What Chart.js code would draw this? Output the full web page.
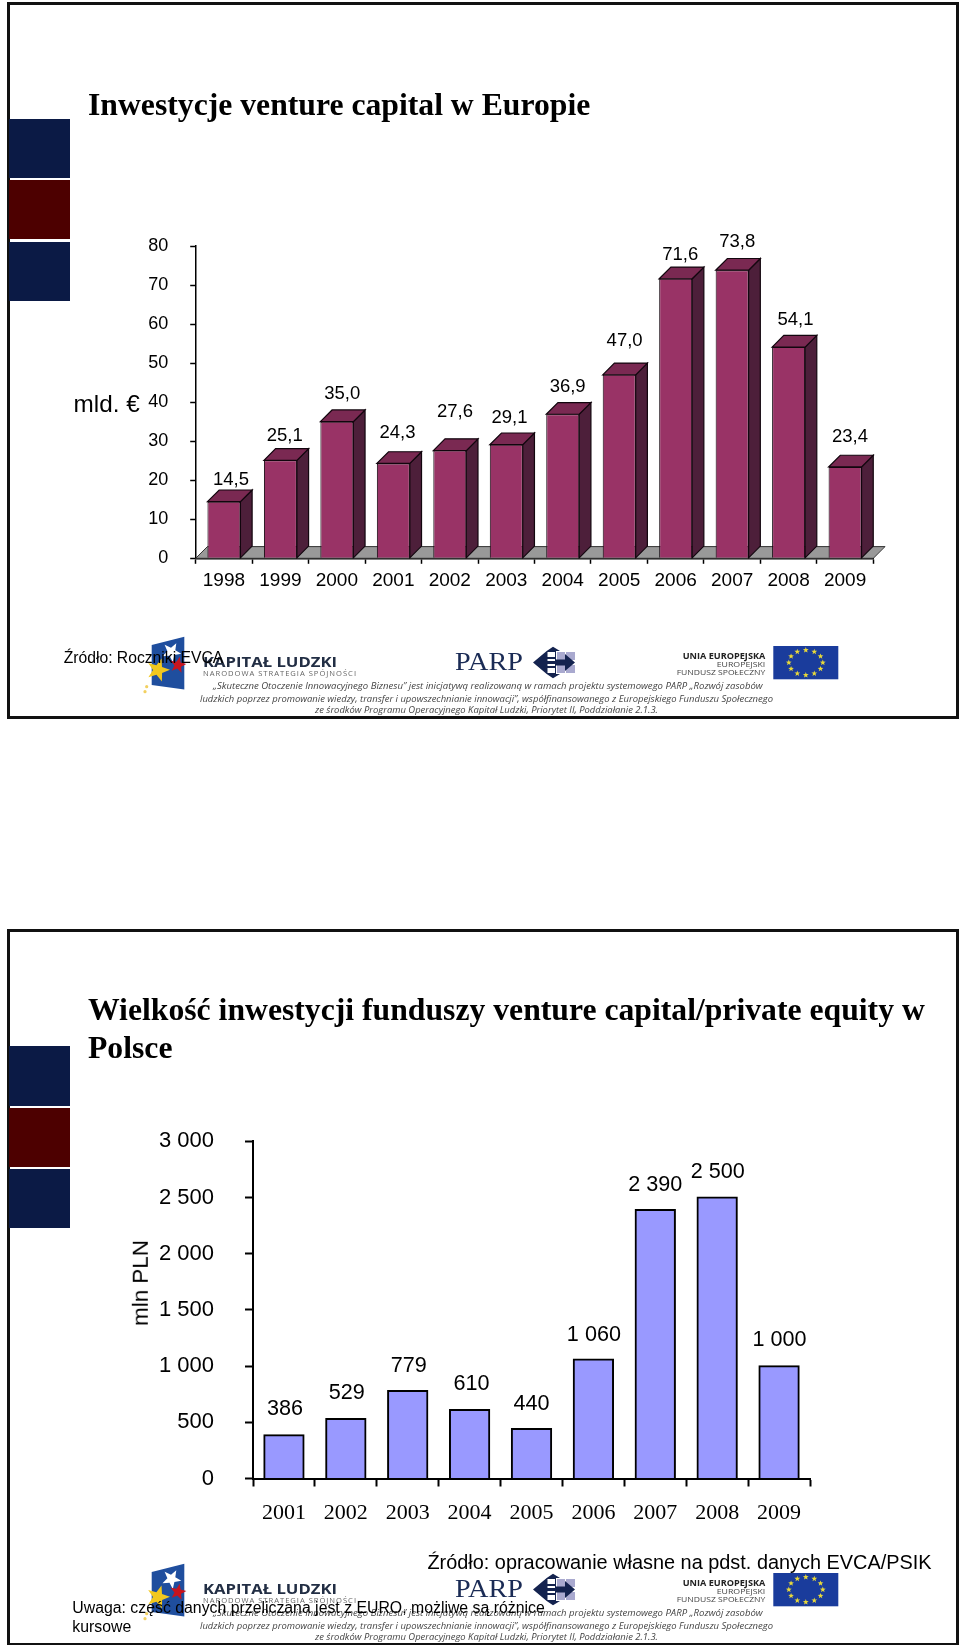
<!DOCTYPE html>
<html lang="pl">
<head>
<meta charset="utf-8">
<title>Inwestycje venture capital</title>
<script src="https://cdn.jsdelivr.net/npm/chart.js@4/dist/chart.umd.min.js"></script>
<style>
html,body{margin:0;padding:0;background:#fff;width:960px;height:1645px;overflow:hidden}
.abs{position:absolute;white-space:nowrap;line-height:1;color:#000}
canvas{position:absolute;left:0}
.frame{position:absolute;left:7px;width:946px;border:3px solid #111;box-sizing:content-box}
.block{position:absolute;left:9px;width:61px}
.serif{font-family:"Liberation Serif",serif;font-weight:bold}
.sans{font-family:"Liberation Sans",sans-serif}
svg.logo{position:absolute;left:0;width:960px;height:90px;overflow:visible}
</style>
</head>
<body>
<script>
// ---------- data ----------
const euroYears = ['1998','1999','2000','2001','2002','2003','2004','2005','2006','2007','2008','2009'];
const euroValues = [14.5,25.1,35.0,24.3,27.6,29.1,36.9,47.0,71.6,73.8,54.1,23.4];
const plnYears = ['2001','2002','2003','2004','2005','2006','2007','2008','2009'];
const plnValues = [386,529,779,610,440,1060,2390,2500,1000];
// hand placement of value labels, relative to each bar's centre / top
const euroLabelDx = [7,4.4,5.4,4.1,5.2,3.2,4.9,5.4,4.6,5.1,6.9,4.9];
const euroLabelDy = [-22,-24.2,-27.9,-30.5,-38.9,-26.5,-27.8,-33.9,-23.7,-28.5,-27.3,-30.4];
const plnLabelDx = [1,1,1,2,0,.5,0,.5,.5];
const plnLabelDy = [-26,-25.7,-25.3,-26.3,-25,-24.2,-25.2,-25.3,-26.4];

// ---------- page furniture ----------
function add(tag, cls, css, text){
  const e = document.createElement(tag);
  if(cls) e.className = cls;
  e.style.cssText = css;
  if(text) e.textContent = text;
  document.body.appendChild(e);
  return e;
}
add('div','frame','top:2px;height:711px');
add('div','frame','top:929px;height:711px');
[[118.5,59.5,'#0b1a45'],[180,59,'#4d0000'],[241.5,59,'#0b1a45'],
 [1046,60,'#0b1a45'],[1107.7,59,'#4d0000'],[1168.7,59,'#0b1a45']].forEach(([t,h,c])=>{
  add('div','block',`top:${t}px;height:${h}px;background:${c}`);
});

function fmtPl(v){ return String(v).replace(/\B(?=(\d{3})+$)/g,' '); }

const depth = 11.7;
function bar3d(chart){
  const {ctx, scales:{x,y}} = chart;
  const y0 = y.getPixelForValue(0);
  ctx.save();
  ctx.fillStyle = '#999999'; ctx.strokeStyle = '#333'; ctx.lineWidth = 1;
  ctx.beginPath();
  ctx.moveTo(x.left,y0); ctx.lineTo(x.left+depth,y0-depth);
  ctx.lineTo(x.right+depth,y0-depth); ctx.lineTo(x.right,y0); ctx.closePath();
  ctx.fill(); ctx.stroke();
  chart.getDatasetMeta(0).data.forEach(b=>{
    const l=b.x-b.width/2, r=b.x+b.width/2, t=b.y, o=b.base;
    ctx.strokeStyle='#12060e'; ctx.lineWidth=1.2;
    ctx.fillStyle='#4d1f3a';
    ctx.beginPath(); ctx.moveTo(r,t); ctx.lineTo(r+depth,t-depth); ctx.lineTo(r+depth,o-depth); ctx.lineTo(r,o); ctx.closePath(); ctx.fill(); ctx.stroke();
    ctx.fillStyle='#7a2952';
    ctx.beginPath(); ctx.moveTo(l,t); ctx.lineTo(l+depth,t-depth); ctx.lineTo(r+depth,t-depth); ctx.lineTo(r,t); ctx.closePath(); ctx.fill(); ctx.stroke();
  });
  ctx.restore();
}
function valueLabels(font,fmt,dxs,dys){
  return {id:'valueLabels',afterDatasetsDraw(chart){
    const {ctx}=chart, d=chart.data.datasets[0].data;
    ctx.save(); ctx.font=font; ctx.fillStyle='#000'; ctx.textAlign='center'; ctx.textBaseline='middle';
    chart.getDatasetMeta(0).data.forEach((b,i)=>ctx.fillText(fmt(d[i]),b.x+dxs[i],b.y+dys[i]));
    ctx.restore();
  }};
}
function makeChart(top,height,opt){
  const c = add('canvas','',`top:${top}px`);
  c.width=960; c.height=height;
  return new Chart(c,{
    type:'bar',
    data:{labels:opt.labels,datasets:[{data:opt.values,backgroundColor:opt.fill,borderColor:opt.edge,borderWidth:opt.bw,borderSkipped:'bottom',
      inflateAmount:opt.inflate,barPercentage:opt.barPct,categoryPercentage:1}]},
    plugins:opt.plugins,
    options:{
      responsive:false,animation:false,devicePixelRatio:1,
      layout:{padding:{top:opt.top-top,left:0,right:960-opt.right,bottom:0}},
      plugins:{legend:{display:false},title:{display:false},tooltip:{enabled:false}},
      scales:{
        x:{
          border:{color:'#000',width:opt.axisW},
          grid:{offset:true,drawOnChartArea:false,drawTicks:true,tickLength:opt.tick,tickWidth:opt.axisW,tickColor:'#000'},
          ticks:{color:'#000',font:opt.xFont,padding:opt.xPad,maxRotation:0,autoSkip:false},
          afterFit(s){s.height=top+height-opt.zero;}
        },
        y:{
          min:0,max:opt.max,
          border:{color:'#000',width:opt.axisW},
          grid:{drawOnChartArea:false,drawTicks:true,tickLength:opt.tick,tickWidth:opt.axisW,tickColor:'#000'},
          ticks:{color:'#000',font:opt.yFont,padding:opt.yPad,stepSize:opt.step,autoSkip:false,callback:v=>fmtPl(v)},
          afterFit(s){s.width=opt.left;}
        }
      }
    }
  });
}

makeChart(0,720,{
  labels:euroYears,values:euroValues,fill:'#993366',edge:'#12060e',bw:1,barPct:.584,inflate:0,
  top:246,zero:558.3,left:195.7,right:873.3,max:80,step:10,tick:5.5,axisW:1.5,
  xFont:{family:'Liberation Sans',size:19},yFont:{family:'Liberation Sans',size:18},xPad:6,yPad:22,
  plugins:[{id:'bar3d',beforeDatasetsDraw:bar3d},
    valueLabels('18.5px "Liberation Sans"',v=>v.toFixed(1).replace('.',','),euroLabelDx,euroLabelDy)]
});
makeChart(920,725,{
  labels:plnYears,values:plnValues,fill:'#9999ff',edge:'#000',bw:2,barPct:.635,inflate:1,
  top:1141.4,zero:1478.5,left:253,right:810,max:3000,step:500,tick:8,axisW:2,
  xFont:{family:'Liberation Serif',size:22},yFont:{family:'Liberation Sans',size:22},xPad:14,yPad:31,
  plugins:[valueLabels('21.6px "Liberation Sans"',fmtPl,plnLabelDx,plnLabelDy)]
});

// ---------- logo strip (same artwork on both slides) ----------
function star(cx,cy,r,rot){
  let p=[];
  for(let i=0;i<10;i++){
    const a=rot+i*Math.PI/5-Math.PI/2, q=i%2?r*.42:r;
    p.push((cx+q*Math.cos(a)).toFixed(1)+','+(cy+q*Math.sin(a)).toFixed(1));
  }
  return p.join(' ');
}
function logoStrip(off){
  let euStars='';
  for(let i=0;i<12;i++){
    const a=i*Math.PI/6;
    euStars+=`<polygon fill="#e8d93a" points="${star(805.8+17*Math.sin(a),662.6-12.5*Math.cos(a),3,0)}"/>`;
  }
  const it='font-family="Open Sans" font-style="italic" fill="#444"';
  const svg=`<svg class="logo" xmlns="http://www.w3.org/2000/svg" viewBox="0 630 960 90" style="top:${630+off}px">
  <polygon points="151.7,645 184.3,636.7 184.3,689.5 151.7,685" fill="#1f4e9e"/>
  <polygon points="${star(171.5,652,10,.5)}" fill="#fff"/>
  <polygon points="${star(158,670,12,.3)}" fill="#f2c81e"/>
  <polygon points="${star(178,665,8.5,.2)}" fill="#c8141e"/>
  <circle cx="146.7" cy="686.7" r="1.6" fill="#f2d060"/><circle cx="145" cy="691.7" r="1.6" fill="#f2d060"/>
  <text x="203" y="666.7" font-family="Open Sans" font-weight="700" font-size="15" fill="#222e44" textLength="134" lengthAdjust="spacingAndGlyphs">KAPITAŁ LUDZKI</text>
  <text x="203" y="676.2" font-family="Open Sans" font-size="7.6" fill="#666" textLength="153" lengthAdjust="spacing">NARODOWA STRATEGIA SPÓJNOŚCI</text>
  <text x="213" y="689.3" ${it} font-size="9.2" textLength="549.7" lengthAdjust="spacingAndGlyphs">„Skuteczne Otoczenie Innowacyjnego Biznesu” jest inicjatywą realizowaną w ramach projektu systemowego PARP „Rozwój zasobów</text>
  <text x="200" y="701.6" ${it} font-size="9.2" textLength="573" lengthAdjust="spacingAndGlyphs">ludzkich poprzez promowanie wiedzy, transfer i upowszechnianie innowacji”, współfinansowanego z Europejskiego Funduszu Społecznego</text>
  <text x="315" y="713.3" ${it} font-size="9.2" textLength="343" lengthAdjust="spacingAndGlyphs">ze środków Programu Operacyjnego Kapitał Ludzki, Priorytet II, Poddziałanie 2.1.3.</text>
  <text x="455" y="670" font-family="Liberation Serif" font-size="26" fill="#1a2b55" textLength="68" lengthAdjust="spacingAndGlyphs">PARP</text>
  <rect x="557" y="652" width="8" height="8" fill="#a9a9cf"/><rect x="566" y="652" width="9" height="8" fill="#a9a9cf"/>
  <rect x="557" y="665" width="8" height="8" fill="#a9a9cf"/><rect x="566" y="665" width="9" height="8" fill="#a9a9cf"/>
  <polygon fill="#14234f" points="533,662.5 546.7,651 553,646.7 560,651 556,651 556,674 560,674 553,678.3 546.7,674"/>
  <rect x="547.5" y="652" width="7.5" height="5" fill="#fff"/><rect x="547.5" y="659" width="7.5" height="2" fill="#fff"/>
  <rect x="547.5" y="664" width="7.5" height="2" fill="#fff"/><rect x="547.5" y="668" width="7.5" height="5" fill="#fff"/>
  <polygon fill="#14234f" points="555,659.5 565,659.5 565,654 575,662.5 565,671 565,665.5 555,665.5"/>
  <text x="765.3" y="658.5" text-anchor="end" font-family="Open Sans" font-weight="700" font-size="8.6" fill="#222" textLength="82.6" lengthAdjust="spacingAndGlyphs">UNIA EUROPEJSKA</text>
  <text x="765.3" y="666.8" text-anchor="end" font-family="Open Sans" font-size="7.8" fill="#444" textLength="48.6" lengthAdjust="spacingAndGlyphs">EUROPEJSKI</text>
  <text x="765.3" y="675" text-anchor="end" font-family="Open Sans" font-size="7.8" fill="#444" textLength="88.6" lengthAdjust="spacingAndGlyphs">FUNDUSZ SPOŁECZNY</text>
  <rect x="773.3" y="646" width="65" height="33.3" fill="#1a3c9c"/>${euStars}
  </svg>`;
  const d=document.createElement('div'); d.innerHTML=svg; document.body.appendChild(d.firstChild);
}
logoStrip(0); logoStrip(927);

// ---------- text on top ----------
add('div','abs serif','left:88px;top:88.5px;font-size:31.7px','Inwestycje venture capital w Europie');
add('div','abs serif','left:88px;top:994px;font-size:31.7px','Wielkość inwestycji funduszy venture capital/private equity w');
add('div','abs serif','left:88px;top:1032px;font-size:31.7px','Polsce');
add('div','abs sans','left:73.5px;top:392px;font-size:24.3px','mld. €');
add('div','abs sans','left:63.7px;top:649.5px;font-size:15.7px','Źródło: Roczniki EVCA');
add('div','abs sans','left:141px;top:1283.4px;font-size:22.4px;transform:translate(-50%,-50%) rotate(-90deg)','mln PLN');
add('div','abs sans','left:427.4px;top:1552.5px;font-size:19.9px','Źródło: opracowanie własne na pdst. danych EVCA/PSIK');
add('div','abs sans','left:72.3px;top:1600px;font-size:15.83px','Uwaga: część danych przeliczana jest z EURO, możliwe są różnice');
add('div','abs sans','left:72.3px;top:1619px;font-size:15.83px','kursowe');
</script>
</body>
</html>
